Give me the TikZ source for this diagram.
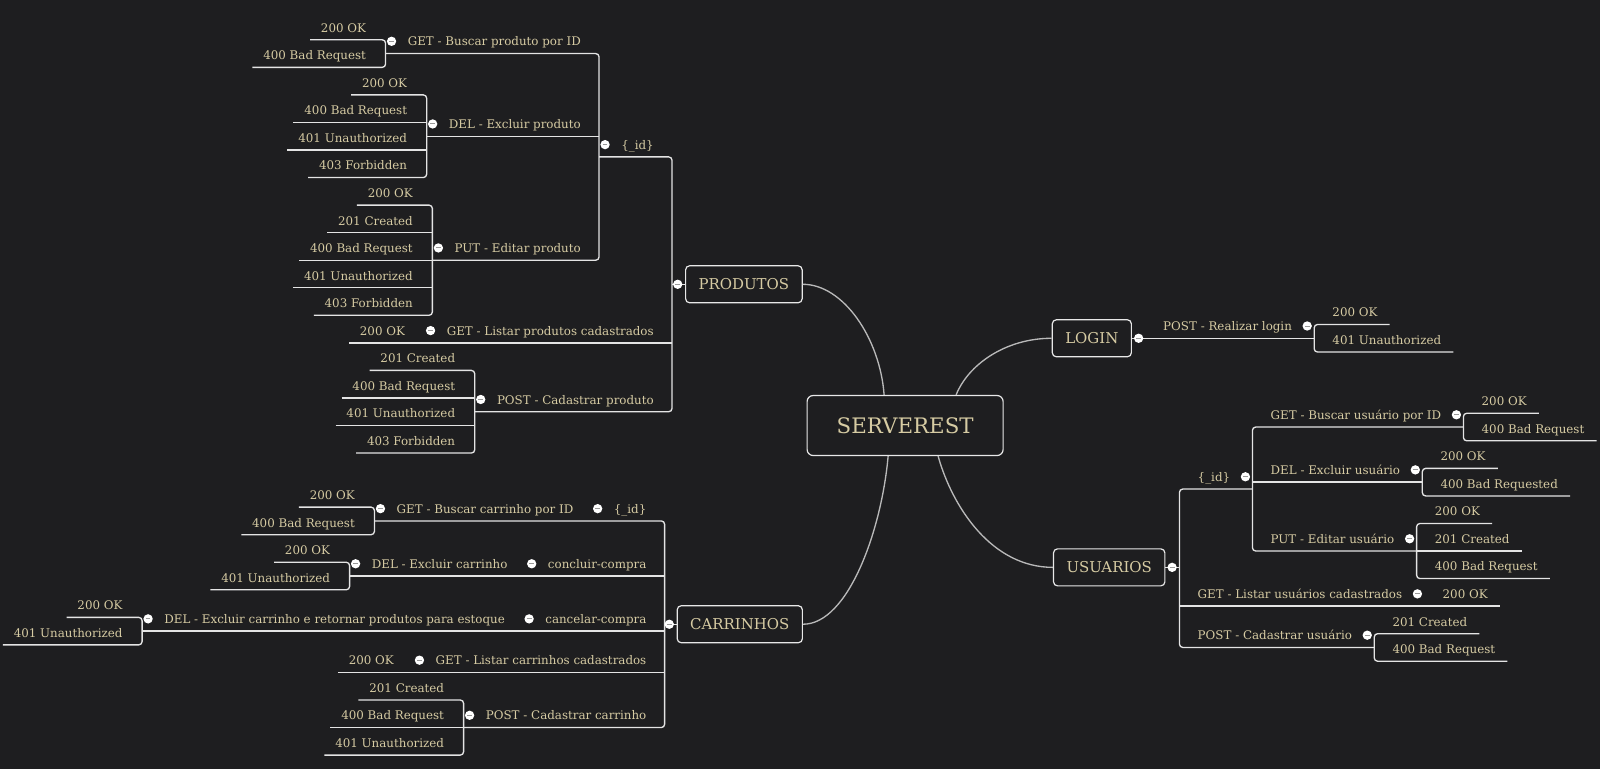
\documentclass[tikz,border=0pt]{standalone}
\usepackage{fontspec}
\setmainfont{DejaVu Serif}
\usepackage{tikz}

\definecolor{bgdark}{HTML}{1E1E20}
\definecolor{beige}{HTML}{D6CBA3}
\definecolor{wire}{HTML}{E4E4E4}
\definecolor{curve}{HTML}{B9B9B9}

\tikzset{
  topic/.style={inner xsep=0pt, inner ysep=3pt, text height=7.5pt, text depth=2.5pt,
    text=beige, font=\fontsize{8.9}{10}\selectfont},
  lleaf/.style={topic, anchor=south east,
    execute at begin node={\hspace*{8pt}}, execute at end node={\hspace*{14.5pt}}},
  lmid/.style={topic, anchor=south east,
    execute at begin node={\hspace*{16.5pt}}, execute at end node={\hspace*{13.5pt}}},
  rleaf/.style={topic, anchor=south west,
    execute at begin node={\hspace*{13.5pt}}, execute at end node={\hspace*{9pt}}},
  rmid/.style={topic, anchor=south west,
    execute at begin node={\hspace*{13.5pt}}, execute at end node={\hspace*{16.5pt}}},
  hub/.style={draw=wire!85, fill=bgdark, rounded corners=3pt, line width=0.9pt, text=beige,
    minimum height=27.75pt, inner xsep=9.75pt, font=\fontsize{11.2}{13}\selectfont},
  root/.style={hub, minimum width=147pt, minimum height=45pt, rounded corners=4.5pt,
    font=\fontsize{16}{18}\selectfont},
  knob/.style={circle, fill=white, inner sep=0pt, minimum size=7pt,
    path picture={\draw[gray!80, line width=0.7pt]
      ([xshift=-1.8pt]path picture bounding box.center) -- ([xshift=1.8pt]path picture bounding box.center);}},
  uline/.style={draw=wire, line width=1pt},
  joint/.style={uline, rounded corners=2.5pt},
  branch/.style={draw=curve, line width=1pt}
}

\begin{document}
\begin{tikzpicture}[x=0.7653pt, y=-0.7653pt]
\path[fill=bgdark, use as bounding box] (0,0) rectangle (1568,753.6);

% main boxes
\node[root] (root) at (887,417) {SERVEREST};
\node[hub] (prod) at (729,278.6) {PRODUTOS};
\node[hub] (login) at (1070,331.5) {LOGIN};
\node[hub] (usr) at (1087,556) {USUARIOS};
\node[hub] (carr) at (725,611.75) {CARRINHOS};

\draw[branch] (prod.east) .. controls +(40,0) and +(-4,-55) .. ([xshift=-15.75pt]root.north);
\draw[branch] (login.west) .. controls +(-45,0) and +(12,-30) .. ([xshift=38.25pt]root.north);
\draw[branch] (usr.west) .. controls +(-60,0) and +(14,50) .. ([xshift=24.75pt]root.south);
\draw[branch] (carr.east) .. controls +(45,0) and +(-6,70) .. ([xshift=-12.75pt]root.south);

% PRODUTOS
\coordinate (pj) at ([xshift=-9.75pt]prod.west);
\node[lmid] (pid) at (pj |- 0,153.75) {\{\_id\}};
\node[lmid] (pget) at (pid.south west |- 0,52.5) {GET - Buscar produto por ID};
\node[lleaf] (pget1) at (pget.south west |- 0,39) {200 OK};
\node[lleaf] (pget2) at (pget.south west |- 0,66) {400 Bad Request};
\node[lmid] (pdel) at (pid.south west |- 0,133.5) {DEL - Excluir produto};
\node[lleaf] (pdel1) at (pdel.south west |- 0,93) {200 OK};
\node[lleaf] (pdel2) at (pdel.south west |- 0,120) {400 Bad Request};
\node[lleaf] (pdel3) at (pdel.south west |- 0,147) {401 Unauthorized};
\node[lleaf] (pdel4) at (pdel.south west |- 0,174) {403 Forbidden};
\node[lmid] (pput) at (pid.south west |- 0,255) {PUT - Editar produto};
\node[lleaf] (pput1) at (pput.south west |- 0,201) {200 OK};
\node[lleaf] (pput2) at (pput.south west |- 0,228) {201 Created};
\node[lleaf] (pput3) at (pput.south west |- 0,255) {400 Bad Request};
\node[lleaf] (pput4) at (pput.south west |- 0,282) {401 Unauthorized};
\node[lleaf] (pput5) at (pput.south west |- 0,309) {403 Forbidden};
\node[lmid] (plist) at (pj |- 0,336) {GET - Listar produtos cadastrados};
\node[lleaf] (plist1) at (plist.south west) {200 OK};
\node[lmid] (ppost) at (pj |- 0,403.5) {POST - Cadastrar produto};
\node[lleaf] (ppost1) at (ppost.south west |- 0,363) {201 Created};
\node[lleaf] (ppost2) at (ppost.south west |- 0,390) {400 Bad Request};
\node[lleaf] (ppost3) at (ppost.south west |- 0,417) {401 Unauthorized};
\node[lleaf] (ppost4) at (ppost.south west |- 0,444) {403 Forbidden};

\draw[uline] (prod.west) -- (pj);
\draw[joint] (pid.south west) -- (pid.south east) -- (ppost.south east) -- (ppost.south west);
\draw[uline] (plist1.south west) -- (plist.south east);
\draw[joint] (pget.south west) -- (pget.south east) -- (pput.south east) -- (pput.south west);
\draw[uline] (pdel.south west) -- (pdel.south east);
\draw[joint] (pget1.south west) -- (pget1.south east) -- (pget2.south east) -- (pget2.south west);
\draw[joint] (pdel1.south west) -- (pdel1.south east) -- (pdel4.south east) -- (pdel4.south west);
\draw[uline] (pdel2.south west) -- (pdel2.south east);
\draw[uline] (pdel3.south west) -- (pdel3.south east);
\draw[joint] (pput1.south west) -- (pput1.south east) -- (pput5.south east) -- (pput5.south west);
\draw[uline] (pput2.south west) -- (pput2.south east);
\draw[uline] (pput3.south west) -- (pput3.south east);
\draw[uline] (pput4.south west) -- (pput4.south east);
\draw[joint] (ppost1.south west) -- (ppost1.south east) -- (ppost4.south east) -- (ppost4.south west);
\draw[uline] (ppost2.south west) -- (ppost2.south east);
\draw[uline] (ppost3.south west) -- (ppost3.south east);

% CARRINHOS
\coordinate (cj) at ([xshift=-9pt]carr.west);
\node[lmid] (cid) at (cj |- 0,510.5) {\{\_id\}};
\node[lmid] (cget) at (cid.south west) {GET - Buscar carrinho por ID};
\node[lleaf] (cget1) at (cget.south west |- 0,497) {200 OK};
\node[lleaf] (cget2) at (cget.south west |- 0,524) {400 Bad Request};
\node[lmid] (cok) at (cj |- 0,564.5) {concluir-compra};
\node[lmid] (cdel) at (cok.south west) {DEL - Excluir carrinho};
\node[lleaf] (cdel1) at (cdel.south west |- 0,551) {200 OK};
\node[lleaf] (cdel2) at (cdel.south west |- 0,578) {401 Unauthorized};
\node[lmid] (ccan) at (cj |- 0,618.5) {cancelar-compra};
\node[lmid] (cret) at (ccan.south west) {DEL - Excluir carrinho e retornar produtos para estoque};
\node[lleaf] (cret1) at (cret.south west |- 0,605) {200 OK};
\node[lleaf] (cret2) at (cret.south west |- 0,632) {401 Unauthorized};
\node[lmid] (clist) at (cj |- 0,659) {GET - Listar carrinhos cadastrados};
\node[lleaf] (clist1) at (clist.south west) {200 OK};
\node[lmid] (cpost) at (cj |- 0,713) {POST - Cadastrar carrinho};
\node[lleaf] (cpost1) at (cpost.south west |- 0,686) {201 Created};
\node[lleaf] (cpost2) at (cpost.south west |- 0,713) {400 Bad Request};
\node[lleaf] (cpost3) at (cpost.south west |- 0,740) {401 Unauthorized};

\draw[uline] (carr.west) -- (cj);
\draw[joint] (cget.south west) -- (cid.south east) -- (cpost.south east) -- (cpost.south west);
\draw[uline] (cdel.south west) -- (cok.south east);
\draw[uline] (cret.south west) -- (ccan.south east);
\draw[uline] (clist1.south west) -- (clist.south east);
\draw[joint] (cget1.south west) -- (cget1.south east) -- (cget2.south east) -- (cget2.south west);
\draw[joint] (cdel1.south west) -- (cdel1.south east) -- (cdel2.south east) -- (cdel2.south west);
\draw[joint] (cret1.south west) -- (cret1.south east) -- (cret2.south east) -- (cret2.south west);
\draw[joint] (cpost1.south west) -- (cpost1.south east) -- (cpost3.south east) -- (cpost3.south west);
\draw[uline] (cpost2.south west) -- (cpost2.south east);

% LOGIN
\node[rmid] (lpost) at ([xshift=9.75pt]login.east) {POST - Realizar login};
\node[rleaf] (lpost1) at (lpost.south east |- 0,318) {200 OK};
\node[rleaf] (lpost2) at (lpost.south east |- 0,345) {401 Unauthorized};

\draw[uline] (login.east) -- (lpost.south east);
\draw[joint] (lpost1.south east) -- (lpost1.south west) -- (lpost2.south west) -- (lpost2.south east);

% USUARIOS
\coordinate (uj) at ([xshift=10.5pt]usr.east);
\node[rmid] (uid) at (uj |- 0,479.25) {\{\_id\}};
\node[rmid] (uget) at (uid.south east |- 0,418.5) {GET - Buscar usuário por ID};
\node[rleaf] (uget1) at (uget.south east |- 0,405) {200 OK};
\node[rleaf] (uget2) at (uget.south east |- 0,432) {400 Bad Request};
\node[rmid] (udel) at (uid.south east |- 0,472.5) {DEL - Excluir usuário};
\node[rleaf] (udel1) at (udel.south east |- 0,459) {200 OK};
\node[rleaf] (udel2) at (udel.south east |- 0,486) {400 Bad Requested};
\node[rmid] (uput) at (uid.south east |- 0,540) {PUT - Editar usuário};
\node[rleaf] (uput1) at (uput.south east |- 0,513) {200 OK};
\node[rleaf] (uput2) at (uput.south east |- 0,540) {201 Created};
\node[rleaf] (uput3) at (uput.south east |- 0,567) {400 Bad Request};
\node[rmid] (ulist) at (uj |- 0,594) {GET - Listar usuários cadastrados};
\node[rleaf] (ulist1) at (ulist.south east) {200 OK};
\node[rmid] (upost) at (uj |- 0,634.5) {POST - Cadastrar usuário};
\node[rleaf] (upost1) at (upost.south east |- 0,621) {201 Created};
\node[rleaf] (upost2) at (upost.south east |- 0,648) {400 Bad Request};

\draw[uline] (usr.east) -- (uj);
\draw[joint] (uid.south east) -- (uid.south west) -- (upost.south west) -- (upost.south east);
\draw[uline] (ulist.south west) -- (ulist1.south east);
\draw[joint] (uget.south east) -- (uget.south west) -- (uput.south west) -- (uput.south east);
\draw[uline] (udel.south west) -- (udel.south east);
\draw[joint] (uget1.south east) -- (uget1.south west) -- (uget2.south west) -- (uget2.south east);
\draw[joint] (udel1.south east) -- (udel1.south west) -- (udel2.south west) -- (udel2.south east);
\draw[joint] (uput1.south east) -- (uput1.south west) -- (uput3.south west) -- (uput3.south east);
\draw[uline] (uput2.south west) -- (uput2.south east);
\draw[joint] (upost1.south east) -- (upost1.south west) -- (upost2.south west) -- (upost2.south east);

% collapse knobs
\node[knob] (kprod) at ([xshift=-5.5pt]prod.west) {};
\node[knob] (kcarr) at ([xshift=-5.5pt]carr.west) {};
\node[knob] (klogin) at ([xshift=5pt]login.east) {};
\node[knob] (kusr) at ([xshift=5pt]usr.east) {};
\node[knob] (kpid) at ([xshift=4.5pt,yshift=1pt]pid.west) {};
\node[knob] (kpget) at ([xshift=4.5pt,yshift=1pt]pget.west) {};
\node[knob] (kpdel) at ([xshift=4.5pt,yshift=1pt]pdel.west) {};
\node[knob] (kpput) at ([xshift=4.5pt,yshift=1pt]pput.west) {};
\node[knob] (kplist) at ([xshift=4.5pt,yshift=1pt]plist.west) {};
\node[knob] (kppost) at ([xshift=4.5pt,yshift=1pt]ppost.west) {};
\node[knob] (kcid) at ([xshift=4.5pt,yshift=1pt]cid.west) {};
\node[knob] (kcget) at ([xshift=4.5pt,yshift=1pt]cget.west) {};
\node[knob] (kcok) at ([xshift=4.5pt,yshift=1pt]cok.west) {};
\node[knob] (kcdel) at ([xshift=4.5pt,yshift=1pt]cdel.west) {};
\node[knob] (kccan) at ([xshift=4.5pt,yshift=1pt]ccan.west) {};
\node[knob] (kcret) at ([xshift=4.5pt,yshift=1pt]cret.west) {};
\node[knob] (kclist) at ([xshift=4.5pt,yshift=1pt]clist.west) {};
\node[knob] (kcpost) at ([xshift=4.5pt,yshift=1pt]cpost.west) {};
\node[knob] (klpost) at ([xshift=-5.25pt,yshift=1pt]lpost.east) {};
\node[knob] (kuid) at ([xshift=-5.25pt,yshift=1pt]uid.east) {};
\node[knob] (kuget) at ([xshift=-5.25pt,yshift=1pt]uget.east) {};
\node[knob] (kudel) at ([xshift=-5.25pt,yshift=1pt]udel.east) {};
\node[knob] (kuput) at ([xshift=-5.25pt,yshift=1pt]uput.east) {};
\node[knob] (kulist) at ([xshift=-5.25pt,yshift=1pt]ulist.east) {};
\node[knob] (kupost) at ([xshift=-5.25pt,yshift=1pt]upost.east) {};
\end{tikzpicture}
\end{document}
